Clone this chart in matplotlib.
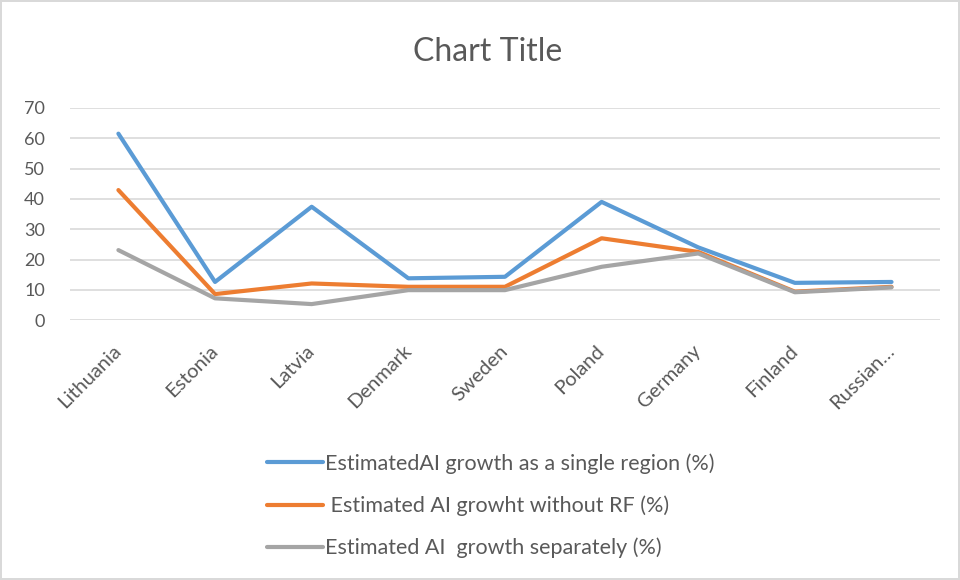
import matplotlib.pyplot as plt
import numpy as np

plt.rcParams['font.family'] = ['Lato', 'DejaVu Sans']

countries = ['Lithuania', 'Estonia', 'Latvia', 'Denmark', 'Sweden',
             'Poland', 'Germany', 'Finland', 'Russian…']
single_region = [61.5, 12.6, 37.4, 13.8, 14.3, 39.0, 24.0, 12.3, 12.6]
without_rf = [42.9, 8.6, 12.1, 11.0, 11.0, 27.0, 22.5, 9.4, 11.0]
separately = [23.1, 7.2, 5.3, 9.9, 9.9, 17.6, 22.0, 9.2, 10.8]

labels = ['EstimatedAI growth as a single region (%)',
          ' Estimated AI growht without RF (%)',
          'Estimated AI  growth separately (%)']
colors = ['#5B9BD5', '#ED7D31', '#A5A5A5']

fig = plt.figure(figsize=(9.6, 5.8), dpi=100, edgecolor='#d9d9d9', linewidth=1.5)
ax = fig.add_axes([0.073, 0.448, 0.906, 0.366])

x = np.arange(len(countries))
for vals, lab, c in zip([single_region, without_rf, separately], labels, colors):
    ax.plot(x, vals, color=c, linewidth=3, label=lab, solid_capstyle='round')

ax.set_xlim(-0.5, len(countries) - 0.5)
ax.set_ylim(0, 70)
ax.set_yticks(range(0, 71, 10))
ax.set_xticks(x)
ax.set_xticklabels(countries, rotation=45, ha='right', va='center', rotation_mode='anchor')
ax.grid(axis='y', color='#d9d9d9', linewidth=1.2)
ax.set_axisbelow(True)
for s in ax.spines.values():
    s.set_visible(False)
ax.tick_params(length=0, labelcolor='#595959')
ax.tick_params(axis='y', labelsize=13, pad=18)
ax.tick_params(axis='x', labelsize=14.5, pad=20)

fig.text(0.508, 0.91, 'Chart Title', ha='center', va='center', fontsize=23, color='#595959')

fig.legend(loc='center', bbox_to_anchor=(0.511, 0.128), frameon=False, fontsize=15.5,
           handlelength=2.6, handletextpad=0.1, labelspacing=1.0, labelcolor='#595959')

fig.savefig('out.png', dpi=100, edgecolor=fig.get_edgecolor())
